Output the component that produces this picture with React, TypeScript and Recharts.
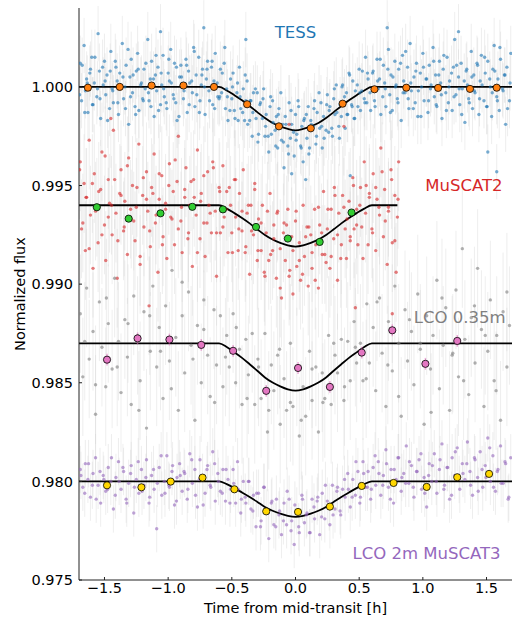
import {
  ComposedChart,
  ErrorBar,
  Line,
  ReferenceDot,
  Scatter,
  XAxis,
  YAxis,
} from "recharts";

// raw photometry [time from mid-transit (h), normalized flux]
const tessRaw: [number, number][] = [
  [-1.69,1.0012],[-1.68,0.9993],[-1.66,1.0021],[-1.65,0.9998],[-1.64,1.0004],[-1.63,0.9987],[-1.61,1.0009],[-1.60,1.0015],[-1.59,0.9991],[-1.58,1.0002],
  [-1.56,0.9995],[-1.55,1.0027],[-1.54,1.0008],[-1.53,0.9984],[-1.51,1.0001],[-1.50,1.0013],[-1.49,0.9996],[-1.48,1.0006],[-1.46,0.9989],[-1.45,1.0018],
  [-1.44,0.9999],[-1.43,0.9992],[-1.41,1.0010],[-1.40,1.0003],[-1.39,0.9986],[-1.38,1.0007],[-1.36,1.0022],[-1.35,0.9994],[-1.34,1.0000],[-1.33,1.0011],
  [-1.31,0.9981],[-1.30,1.0005],[-1.29,1.0014],[-1.28,0.9997],[-1.26,0.9990],[-1.25,1.0008],[-1.24,1.0017],[-1.23,0.9988],[-1.21,1.0002],[-1.20,0.9994],
  [-1.19,1.0009],[-1.18,0.9999],[-1.16,1.0024],[-1.15,0.9993],[-1.14,1.0004],[-1.13,1.0013],[-1.11,0.9985],[-1.10,1.0006],[-1.09,0.9998],[-1.08,1.0010],
  [-1.06,0.9991],[-1.06,1.0028],[-1.05,1.0001],[-1.04,1.0016],[-1.03,0.9995],[-1.01,0.9989],[-1.00,1.0007],[-0.99,1.0003],[-0.98,1.0019],[-0.96,0.9996],
  [-0.95,1.0012],[-0.94,0.9992],[-0.93,0.9983],[-0.91,1.0005],[-0.90,1.0011],[-0.89,1.0000],[-0.88,0.9994],[-0.86,1.0014],[-0.85,0.9987],[-0.84,1.0008],
  [-0.83,1.0002],[-0.81,0.9997],[-0.80,1.0020],[-0.79,0.9990],[-0.78,1.0006],[-0.76,1.0015],[-0.75,0.9993],[-0.74,1.0001],[-0.73,1.0009],[-0.72,1.0030],
  [-0.71,0.9986],[-0.70,1.0004],[-0.69,1.0013],[-0.68,0.9998],[-0.66,1.0010],[-0.65,0.9991],[-0.64,1.0003],[-0.63,1.0017],[-0.61,0.9995],
  [-0.60,0.9994],[-0.59,1.0009],[-0.58,0.9997],[-0.56,1.0012],[-0.55,0.9989],[-0.54,0.9999],[-0.53,0.9983],[-0.51,1.0004],[-0.50,0.9994],[-0.49,1.0007],
  [-0.48,0.9988],[-0.46,0.9997],[-0.45,0.9983],[-0.44,1.0010],[-0.43,0.9989],[-0.41,0.9999],[-0.40,0.9983],[-0.39,0.9993],[-0.39,1.0024],[-0.38,1.0003],
  [-0.36,0.9983],[-0.35,0.9993],[-0.34,0.9975],[-0.33,0.9997],[-0.31,0.9984],[-0.30,0.9997],[-0.29,0.9976],[-0.28,0.9991],[-0.26,0.9984],[-0.25,0.9999],
  [-0.24,0.9975],[-0.23,0.9986],[-0.21,0.9967],[-0.20,0.9990],[-0.19,0.9976],[-0.18,0.9993],[-0.16,0.9978],[-0.15,0.9985],[-0.14,0.9969],[-0.13,0.9989],
  [-0.11,0.9973],[-0.10,0.9981],[-0.09,0.9959],[-0.08,0.9985],[-0.06,0.9970],[-0.05,0.9992],[-0.04,0.9974],[-0.03,0.9981],[-0.03,0.9956],[-0.01,0.9965],
  [0.00,0.9986],[0.01,0.9976],[0.02,0.9993],[0.04,0.9970],[0.05,0.9980],[0.06,0.9962],[0.07,0.9984],[0.08,0.9953],[0.09,0.9974],[0.10,0.9990],
  [0.11,0.9969],[0.12,0.9983],[0.14,0.9980],[0.15,0.9993],[0.16,0.9971],[0.17,0.9987],[0.19,0.9979],[0.20,0.9992],[0.21,0.9969],[0.22,0.9985],
  [0.24,0.9978],[0.25,0.9996],[0.26,0.9977],[0.27,0.9990],[0.29,0.9975],[0.30,0.9994],[0.31,0.9986],[0.32,1.0001],[0.34,0.9980],[0.35,0.9991],
  [0.36,0.9985],[0.37,1.0001],[0.39,0.9979],[0.40,0.9997],[0.41,0.9986],[0.42,1.0007],[0.43,0.9955],[0.44,0.9991],[0.45,1.0003],[0.46,0.9984],
  [0.47,0.9998],[0.49,0.9990],[0.50,1.0009],[0.51,0.9988],[0.52,0.9998],[0.54,0.9994],[0.55,1.0015],[0.56,0.9992],[0.57,1.0004],[0.59,0.9988],
  [0.61,1.0008],[0.62,0.9993],[0.64,1.0014],[0.65,0.9999],[0.66,1.0004],[0.67,0.9986],[0.69,1.0011],[0.70,1.0002],[0.71,0.9990],[0.72,1.0030],
  [0.73,1.0019],[0.74,0.9996],[0.75,1.0006],[0.76,0.9988],[0.78,1.0013],[0.79,1.0001],[0.80,0.9994],[0.81,1.0009],[0.83,0.9983],[0.84,1.0016],
  [0.85,1.0003],[0.86,0.9997],[0.88,1.0010],[0.89,0.9989],[0.90,1.0022],[0.91,0.9998],[0.93,1.0005],[0.94,0.9992],[0.95,1.0012],[0.96,0.9985],
  [0.98,1.0007],[0.99,1.0000],[1.00,1.0017],[1.01,0.9993],[1.03,1.0004],[1.04,0.9987],[1.05,1.0011],[1.06,0.9999],[1.08,1.0020],[1.09,0.9995],
  [1.10,1.0006],[1.11,0.9990],[1.13,1.0013],[1.14,1.0002],[1.15,0.9984],[1.16,1.0009],[1.18,0.9997],[1.19,1.0015],[1.20,0.9992],[1.21,1.0003],
  [1.23,0.9988],[1.24,1.0010],[1.25,1.0024],[1.26,0.9996],[1.28,1.0005],[1.28,1.0028],[1.29,0.9991],[1.30,1.0012],[1.31,0.9999],[1.33,0.9982],
  [1.34,1.0008],[1.35,1.0001],[1.36,0.9994],[1.38,1.0018],[1.39,0.9989],[1.40,1.0006],[1.41,0.9997],[1.43,1.0011],[1.44,0.9986],[1.45,1.0003],
  [1.46,1.0016],[1.48,0.9993],[1.49,1.0007],[1.50,0.9990],[1.51,1.0013],[1.51,0.9967],[1.53,1.0000],[1.54,0.9985],[1.55,1.0009],[1.56,1.0021],
  [1.58,0.9995],[1.58,0.9957],[1.59,1.0004],[1.60,0.9988],[1.61,1.0014],[1.63,0.9998],[1.64,1.0006],[1.65,0.9981],[1.66,1.0010],[1.68,0.9993],[1.69,1.0017],
  // second camera cadence
  [-1.695,0.9996],[-1.675,1.0011],[-1.655,0.9987],[-1.635,1.0002],[-1.615,1.0007],[-1.595,0.9991],[-1.575,1.0015],[-1.555,0.9999],[-1.535,0.9994],[-1.515,1.0010],
  [-1.495,1.0003],[-1.475,0.9983],[-1.455,1.0008],[-1.435,0.9998],[-1.415,1.0013],[-1.395,0.9992],[-1.375,1.0000],[-1.355,1.0005],[-1.335,0.9989],[-1.315,1.0019],
  [-1.295,0.9995],[-1.275,1.0006],[-1.255,0.9986],[-1.235,1.0009],[-1.215,1.0001],[-1.195,0.9993],[-1.175,1.0012],[-1.155,0.9997],[-1.135,0.9990],[-1.115,1.0004],
  [-1.095,1.0016],[-1.075,0.9988],[-1.055,1.0007],[-1.035,0.9999],[-1.015,0.9992],[-0.995,1.0014],[-0.975,1.0002],[-0.955,0.9994],[-0.935,1.0010],[-0.915,0.9985],
  [-0.895,1.0005],[-0.875,0.9998],[-0.855,1.0011],[-0.835,0.9991],[-0.815,1.0003],[-0.795,1.0018],[-0.775,0.9996],[-0.755,0.9987],[-0.735,1.0006],[-0.715,1.0000],
  [-0.695,1.0009],[-0.675,0.9993],[-0.655,1.0013],[-0.635,0.9989],[-0.615,1.0002],
  [-0.595,0.9995],[-0.575,1.0007],[-0.555,1.0020],[-0.535,0.9995],[-0.515,0.9988],[-0.495,1.0000],[-0.475,0.9984],[-0.455,1.0002],[-0.435,0.9995],[-0.415,0.9987],
  [-0.395,1.0006],[-0.375,0.9981],[-0.355,0.9993],[-0.335,0.9987],[-0.315,0.9999],[-0.295,0.9972],[-0.275,0.9992],[-0.255,0.9994],[-0.235,0.9980],[-0.215,0.9975],
  [-0.195,0.9995],[-0.175,0.9982],[-0.155,0.9970],[-0.135,0.9986],[-0.115,0.9997],[-0.095,0.9972],[-0.075,0.9981],[-0.055,0.9966],[-0.035,0.9988],[-0.015,0.9977],
  [0.005,0.9973],[0.025,0.9990],[0.045,0.9969],[0.065,0.9983],[0.085,0.9986],[0.105,0.9966],[0.125,0.9981],[0.145,0.9989],[0.165,0.9975],[0.185,0.9997],
  [0.205,0.9980],[0.225,0.9974],[0.245,0.9991],[0.265,0.9988],[0.285,0.9979],[0.305,0.9999],[0.325,0.9987],[0.345,0.9974],[0.365,1.0000],[0.385,0.9995],
  [0.405,0.9986],[0.425,1.0006],[0.445,0.9990],[0.465,0.9984],[0.485,1.0001],[0.505,0.9997],[0.525,1.0008],[0.545,0.9992],[0.565,1.0007],[0.585,0.9997],
  [0.605,1.0007],[0.625,0.9990],[0.645,1.0003],[0.665,1.0014],[0.685,0.9995],[0.705,0.9999],[0.725,1.0009],[0.745,0.9987],[0.765,1.0005],[0.785,1.0000],
  [0.805,0.9992],[0.825,1.0012],[0.845,0.9997],[0.865,1.0018],[0.885,0.9994],[0.905,1.0002],[0.925,0.9989],[0.945,1.0008],[0.965,0.9998],[0.985,0.9985],
  [1.005,1.0010],[1.025,1.0004],[1.045,0.9993],[1.065,1.0001],[1.085,1.0013],[1.105,0.9991],[1.125,1.0006],[1.145,0.9996],[1.165,1.0016],[1.185,0.9988],
  [1.205,1.0000],[1.225,1.0007],[1.245,0.9995],[1.265,1.0011],[1.285,0.9999],[1.305,0.9986],[1.325,1.0003],[1.345,1.0009],[1.365,0.9992],[1.385,1.0005],
  [1.405,0.9998],[1.425,1.0012],[1.445,0.9994],[1.465,1.0001],[1.485,1.0015],[1.505,0.9990],[1.525,1.0004],[1.545,0.9997],[1.565,1.0008],[1.585,0.9993],
  [1.605,1.0020],[1.625,0.9999],[1.645,1.0006],[1.665,0.9989],[1.685,1.0002],
];

const muscat2Raw: [number, number][] = [
  [-1.69,0.9962],[-1.68,0.9928],[-1.66,0.9951],[-1.65,0.9917],[-1.64,0.9944],[-1.62,0.9973],[-1.61,0.9935],[-1.59,0.9908],[-1.58,0.9956],[-1.56,0.9939],
  [-1.55,0.9921],[-1.53,0.9948],[-1.52,0.9967],[-1.50,0.9930],[-1.49,0.9912],[-1.47,0.9953],[-1.46,0.9941],[-1.45,0.9984],[-1.44,0.9925],[-1.43,0.9978],
  [-1.41,0.9936],[-1.40,0.9903],[-1.38,0.9946],[-1.37,0.9958],[-1.35,0.9927],[-1.34,0.9942],[-1.32,0.9915],[-1.31,0.9964],[-1.29,0.9933],[-1.28,0.9950],
  [-1.26,0.9922],[-1.25,0.9939],[-1.23,0.9971],[-1.22,0.9910],[-1.20,0.9945],[-1.19,0.9929],[-1.17,0.9957],[-1.16,0.9937],[-1.15,0.9889],[-1.14,0.9919],
  [-1.13,0.9949],[-1.11,0.9966],[-1.10,0.9931],[-1.08,0.9906],[-1.07,0.9943],[-1.05,0.9955],[-1.04,0.9924],[-1.02,0.9938],[-1.01,0.9913],[-0.99,0.9961],
  [-0.98,0.9934],[-0.96,0.9947],[-0.95,0.9920],[-0.93,0.9952],[-0.92,0.9975],[-0.90,0.9932],[-0.89,0.9916],[-0.87,0.9944],[-0.86,0.9959],[-0.84,0.9926],
  [-0.83,0.9940],[-0.81,0.9909],[-0.80,0.9953],[-0.78,0.9935],[-0.77,0.9968],[-0.75,0.9923],[-0.74,0.9946],[-0.72,0.9931],[-0.71,0.9914],[-0.69,0.9957],
  [-0.68,0.9940],[-0.66,0.9926],[-0.65,0.9962],[-0.63,0.9937],[-0.62,0.9904],[-0.60,0.9949],
  [-0.59,0.9926],[-0.57,0.9960],[-0.56,0.9934],[-0.54,0.9947],[-0.53,0.9916],[-0.51,0.9940],[-0.50,0.9926],[-0.48,0.9953],[-0.47,0.9934],[-0.45,0.9917],
  [-0.44,0.9946],[-0.42,0.9927],[-0.41,0.9958],[-0.39,0.9919],[-0.38,0.9936],[-0.36,0.9905],[-0.35,0.9940],[-0.33,0.9925],[-0.32,0.9948],[-0.30,0.9912],
  [-0.29,0.9933],[-0.27,0.9917],[-0.26,0.9940],[-0.24,0.9904],[-0.23,0.9926],[-0.21,0.9912],[-0.20,0.9946],[-0.18,0.9917],[-0.17,0.9930],[-0.15,0.9903],
  [-0.14,0.9937],[-0.12,0.9918],[-0.11,0.9893],[-0.09,0.9931],[-0.08,0.9912],[-0.06,0.9938],[-0.05,0.9904],[-0.05,0.9981],[-0.03,0.9924],[-0.02,0.9895],
  [0.00,0.9932],[0.01,0.9909],[0.03,0.9921],[0.04,0.9902],[0.06,0.9940],[0.07,0.9914],[0.09,0.9929],[0.10,0.9899],[0.12,0.9925],[0.13,0.9908],
  [0.15,0.9938],[0.16,0.9920],[0.18,0.9898],[0.19,0.9930],[0.21,0.9915],[0.22,0.9947],[0.24,0.9911],[0.25,0.9928],[0.27,0.9908],[0.28,0.9938],
  [0.30,0.9923],[0.31,0.9945],[0.33,0.9902],[0.34,0.9936],[0.36,0.9920],[0.37,0.9945],[0.38,0.9980],[0.39,0.9928],[0.40,0.9913],[0.42,0.9942],
  [0.43,0.9922],[0.45,0.9954],[0.46,0.9928],[0.47,0.9888],[0.48,0.9938],[0.49,0.9920],[0.51,0.9949],[0.52,0.9929],[0.54,0.9962],[0.55,0.9936],
  [0.57,0.9920],[0.58,0.9946],[0.60,0.9928],[0.61,0.9956],[0.63,0.9917],[0.64,0.9943],[0.66,0.9935],[0.67,0.9969],[0.69,0.9924],[0.70,0.9948],
  [0.72,0.9910],[0.73,0.9939],[0.75,0.9958],[0.76,0.9921],[0.76,0.9885],[0.78,0.9945],[0.79,0.9906],[0.80,0.9934],[0.81,0.9962],
  [-1.695,0.9958],[-1.670,0.9931],[-1.645,0.9944],[-1.620,0.9918],[-1.595,0.9951],[-1.570,0.9937],[-1.545,0.9947],[-1.520,0.9925],[-1.495,0.9965],[-1.470,0.9934],
  [-1.445,0.9940],[-1.420,0.9953],[-1.395,0.9922],[-1.370,0.9945],[-1.345,0.9929],[-1.320,0.9960],[-1.295,0.9938],[-1.270,0.9932],[-1.245,0.9949],[-1.220,0.9914],
  [-1.195,0.9954],[-1.170,0.9943],[-1.145,0.9927],[-1.120,0.9946],[-1.095,0.9935],[-1.070,0.9956],[-1.045,0.9920],[-1.020,0.9941],[-0.995,0.9950],[-0.970,0.9933],
  [-0.945,0.9963],[-0.920,0.9928],[-0.895,0.9939],[-0.870,0.9948],[-0.845,0.9923],[-0.820,0.9952],[-0.795,0.9944],[-0.770,0.9916],[-0.745,0.9942],[-0.720,0.9955],
  [-0.695,0.9931],[-0.670,0.9936],[-0.645,0.9959],[-0.620,0.9926],
  [-0.595,0.9947],[-0.570,0.9929],[-0.545,0.9938],[-0.520,0.9949],[-0.495,0.9916],[-0.470,0.9953],[-0.445,0.9928],[-0.420,0.9937],[-0.395,0.9916],[-0.370,0.9940],
  [-0.345,0.9927],[-0.320,0.9951],[-0.295,0.9917],[-0.270,0.9931],[-0.245,0.9906],[-0.220,0.9937],[-0.195,0.9915],[-0.170,0.9923],[-0.145,0.9936],[-0.120,0.9898],
  [-0.095,0.9926],[-0.070,0.9930],[-0.045,0.9907],[-0.020,0.9917],[0.005,0.9937],[0.030,0.9912],[0.055,0.9905],[0.080,0.9924],[0.105,0.9929],[0.130,0.9916],
  [0.155,0.9902],[0.180,0.9939],[0.205,0.9926],[0.230,0.9915],[0.255,0.9938],[0.280,0.9914],[0.305,0.9949],[0.330,0.9925],[0.355,0.9913],[0.380,0.9939],
  [0.405,0.9933],[0.430,0.9924],[0.455,0.9950],[0.480,0.9930],[0.505,0.9940],[0.530,0.9913],[0.555,0.9950],[0.580,0.9944],
  [0.605,0.9926],[0.630,0.9949],[0.655,0.9939],[0.680,0.9957],[0.705,0.9932],[0.730,0.9937],[0.755,0.9953],[0.780,0.9922],[0.805,0.9943],
];

const lco035Raw: [number, number][] = [
  [-1.69,0.9885],[-1.67,0.9853],[-1.64,0.9898],[-1.62,0.9862],[-1.59,0.9876],[-1.57,0.9834],[-1.54,0.9891],[-1.52,0.9868],[-1.49,0.9848],[-1.47,0.9880],
  [-1.44,0.9857],[-1.42,0.9903],[-1.39,0.9871],[-1.37,0.9845],[-1.34,0.9882],[-1.32,0.9863],[-1.29,0.9839],[-1.27,0.9894],[-1.24,0.9874],[-1.22,0.9851],
  [-1.19,0.9886],[-1.17,0.9827],[-1.14,0.9866],[-1.12,0.9899],[-1.09,0.9858],[-1.07,0.9878],[-1.04,0.9842],[-1.02,0.9889],[-0.99,0.9861],[-0.97,0.9907],
  [-0.94,0.9873],[-0.92,0.9836],[-0.89,0.9884],[-0.87,0.9855],[-0.84,0.9896],[-0.82,0.9869],[-0.79,0.9831],[-0.77,0.9879],[-0.74,0.9850],[-0.72,0.9892],
  [-0.69,0.9864],[-0.67,0.9843],[-0.64,0.9887],[-0.62,0.9859],
  [-0.59,0.9884],[-0.57,0.9848],[-0.54,0.9874],[-0.52,0.9858],[-0.49,0.9885],[-0.47,0.9850],[-0.44,0.9867],[-0.42,0.9839],[-0.39,0.9872],[-0.37,0.9854],
  [-0.34,0.9875],[-0.32,0.9839],[-0.29,0.9858],[-0.27,0.9842],[-0.24,0.9875],[-0.22,0.9825],[-0.19,0.9859],[-0.17,0.9846],[-0.14,0.9864],[-0.12,0.9829],
  [-0.09,0.9852],[-0.07,0.9836],[-0.04,0.9870],[-0.02,0.9838],[0.01,0.9858],[0.03,0.9823],[0.06,0.9848],[0.08,0.9833],[0.11,0.9866],[0.13,0.9841],
  [0.16,0.9858],[0.18,0.9825],[0.21,0.9855],[0.23,0.9842],[0.26,0.9874],[0.28,0.9839],[0.31,0.9864],[0.33,0.9855],[0.36,0.9872],[0.38,0.9841],
  [0.41,0.9871],[0.43,0.9851],[0.46,0.9881],[0.48,0.9860],[0.51,0.9870],[0.53,0.9851],[0.56,0.9890],[0.58,0.9860],
  [0.61,0.9878],[0.63,0.9846],[0.66,0.9893],[0.68,0.9865],[0.71,0.9838],[0.73,0.9881],[0.76,0.9856],[0.78,0.9899],[0.81,0.9870],[0.83,0.9833],
  [0.86,0.9887],[0.88,0.9861],[0.91,0.9876],[0.93,0.9849],[0.96,0.9895],[0.98,0.9867],[1.01,0.9829],[1.03,0.9884],[1.06,0.9857],[1.08,0.9874],
  [1.11,0.9902],[1.13,0.9847],[1.16,0.9869],[1.18,0.9888],[1.21,0.9836],[1.23,0.9864],[1.26,0.9897],[1.28,0.9853],[1.31,0.9918],[1.33,0.9872],
  [1.36,0.9844],[1.38,0.9883],[1.41,0.9860],[1.43,0.9908],[1.46,0.9877],[1.48,0.9838],[1.51,0.9866],[1.53,0.9892],[1.56,0.9851],[1.58,0.9874],
  [1.61,0.9831],[1.63,0.9886],[1.66,0.9858],[1.68,0.9879],
  [-1.655,0.9871],[-1.57,0.9849],[-1.485,0.9893],[-1.40,0.9858],[-1.315,0.9880],[-1.23,0.9836],[-1.145,0.9884],[-1.06,0.9866],[-0.975,0.9847],[-0.89,0.9901],
  [-0.805,0.9862],[-0.72,0.9877],[-0.635,0.9840],[-0.55,0.9863],[-0.465,0.9878],[-0.38,0.9842],[-0.295,0.9862],[-0.21,0.9836],[-0.125,0.9867],[-0.04,0.9840],
  [0.045,0.9831],[0.13,0.9857],[0.215,0.9840],[0.30,0.9870],[0.385,0.9848],[0.47,0.9868],[0.555,0.9852],[0.64,0.9891],[0.725,0.9859],[0.81,0.9843],
  [0.895,0.9882],[0.98,0.9870],[1.065,0.9835],[1.15,0.9893],[1.235,0.9865],[1.32,0.9851],[1.405,0.9889],[1.49,0.9874],[1.575,0.9846],[1.66,0.9896],
];

const muscat3Raw: [number, number][] = [
  [-1.69,0.9806],[-1.67,0.9797],[-1.65,0.9809],[-1.63,0.9801],[-1.61,0.9792],[-1.59,0.9804],[-1.57,0.9812],[-1.55,0.9798],[-1.53,0.9789],[-1.51,0.9803],
  [-1.49,0.9795],[-1.47,0.9807],[-1.45,0.9800],[-1.43,0.9786],[-1.41,0.9802],[-1.39,0.9810],[-1.37,0.9796],[-1.35,0.9805],[-1.33,0.9791],[-1.31,0.9799],
  [-1.29,0.9808],[-1.27,0.9784],[-1.25,0.9801],[-1.23,0.9794],[-1.21,0.9806],[-1.19,0.9798],[-1.17,0.9811],[-1.15,0.9789],[-1.13,0.9803],[-1.11,0.9796],
  [-1.09,0.9776],[-1.07,0.9807],[-1.05,0.9793],[-1.03,0.9800],[-1.01,0.9813],[-0.99,0.9797],[-0.97,0.9805],[-0.95,0.9788],[-0.93,0.9802],[-0.91,0.9809],
  [-0.89,0.9795],[-0.87,0.9804],[-0.85,0.9791],[-0.83,0.9814],[-0.81,0.9799],[-0.79,0.9806],[-0.77,0.9787],[-0.75,0.9811],[-0.73,0.9802],[-0.71,0.9794],
  [-0.69,0.9808],[-0.67,0.9798],[-0.65,0.9815],[-0.63,0.9790],[-0.61,0.9804],
  [-0.59,0.9795],[-0.57,0.9806],[-0.55,0.9790],[-0.53,0.9801],[-0.51,0.9796],[-0.49,0.9806],[-0.47,0.9789],[-0.45,0.9796],[-0.43,0.9784],[-0.41,0.9800],
  [-0.39,0.9789],[-0.37,0.9800],[-0.35,0.9786],[-0.33,0.9793],[-0.31,0.9777],[-0.29,0.9794],[-0.27,0.9780],[-0.25,0.9797],[-0.23,0.9784],[-0.21,0.9771],
  [-0.19,0.9789],[-0.17,0.9778],[-0.15,0.9791],[-0.13,0.9783],[-0.11,0.9773],[-0.09,0.9789],[-0.07,0.9778],[-0.05,0.9791],[-0.03,0.9780],[-0.01,0.9768],
  [0.01,0.9785],[0.03,0.9774],[0.05,0.9793],[0.07,0.9779],[0.09,0.9784],[0.11,0.9774],[0.13,0.9791],[0.15,0.9781],[0.17,0.9790],[0.19,0.9773],
  [0.21,0.9794],[0.23,0.9781],[0.25,0.9790],[0.27,0.9778],[0.29,0.9798],[0.31,0.9786],[0.33,0.9797],[0.35,0.9785],[0.37,0.9796],[0.39,0.9792],
  [0.41,0.9804],[0.43,0.9787],[0.45,0.9801],[0.47,0.9793],[0.49,0.9805],[0.51,0.9792],[0.53,0.9810],[0.55,0.9797],[0.57,0.9805],[0.59,0.9791],
  [0.61,0.9807],[0.63,0.9798],[0.65,0.9810],[0.67,0.9793],[0.69,0.9803],[0.71,0.9816],[0.73,0.9797],[0.75,0.9806],[0.77,0.9789],[0.79,0.9801],
  [0.81,0.9812],[0.83,0.9795],[0.85,0.9804],[0.87,0.9818],[0.89,0.9799],[0.91,0.9808],[0.93,0.9792],[0.95,0.9805],[0.97,0.9811],[0.99,0.9796],
  [1.01,0.9802],[1.03,0.9787],[1.05,0.9809],[1.07,0.9800],[1.09,0.9814],[1.11,0.9794],[1.13,0.9806],[1.15,0.9819],[1.17,0.9798],[1.19,0.9807],
  [1.21,0.9791],[1.23,0.9812],[1.25,0.9803],[1.27,0.9817],[1.29,0.9796],[1.31,0.9809],[1.33,0.9801],[1.35,0.9820],[1.37,0.9805],[1.39,0.9793],
  [1.41,0.9811],[1.43,0.9802],[1.45,0.9815],[1.47,0.9797],[1.49,0.9808],[1.51,0.9822],[1.53,0.9800],[1.55,0.9813],[1.57,0.9795],[1.59,0.9806],
  [1.61,0.9818],[1.63,0.9799],[1.65,0.9809],[1.67,0.9791],[1.69,0.9812],
  [-1.685,0.9803],[-1.655,0.9794],[-1.625,0.9809],[-1.595,0.9798],[-1.565,0.9791],[-1.535,0.9805],[-1.505,0.9801],[-1.475,0.9796],[-1.445,0.9812],[-1.415,0.9793],
  [-1.385,0.9800],[-1.355,0.9807],[-1.325,0.9789],[-1.295,0.9804],[-1.265,0.9797],[-1.235,0.9810],[-1.205,0.9795],[-1.175,0.9802],[-1.145,0.9792],[-1.115,0.9806],
  [-1.085,0.9799],[-1.055,0.9813],[-1.025,0.9794],[-0.995,0.9798],[-0.965,0.9808],[-0.935,0.9790],[-0.905,0.9803],[-0.875,0.9805],[-0.845,0.9796],[-0.815,0.9811],
  [-0.785,0.9793],[-0.755,0.9801],[-0.725,0.9788],[-0.695,0.9806],[-0.665,0.9797],[-0.635,0.9809],[-0.605,0.9800],
  [-0.575,0.9794],[-0.545,0.9806],[-0.515,0.9789],[-0.485,0.9799],[-0.455,0.9810],[-0.425,0.9791],[-0.395,0.9792],[-0.365,0.9800],[-0.335,0.9785],[-0.305,0.9794],
  [-0.275,0.9777],[-0.245,0.9797],[-0.215,0.9784],[-0.185,0.9790],[-0.155,0.9777],[-0.125,0.9785],[-0.095,0.9780],[-0.065,0.9795],[-0.035,0.9775],[-0.005,0.9788],
  [0.025,0.9777],[0.055,0.9791],[0.085,0.9783],[0.115,0.9774],[0.145,0.9787],[0.175,0.9792],[0.205,0.9782],[0.235,0.9798],[0.265,0.9787],[0.295,0.9783],
  [0.325,0.9795],[0.355,0.9783],[0.385,0.9801],[0.415,0.9796],[0.445,0.9792],[0.475,0.9810],[0.505,0.9789],[0.535,0.9804],[0.565,0.9797],
  [0.595,0.9796],[0.625,0.9813],[0.655,0.9804],[0.685,0.9798],[0.715,0.9809],[0.745,0.9791],[0.775,0.9806],[0.805,0.9812],[0.835,0.9802],[0.865,0.9799],
  [0.895,0.9810],[0.925,0.9797],[0.955,0.9805],[0.985,0.9814],[1.015,0.9794],[1.045,0.9803],[1.075,0.9808],[1.105,0.9800],[1.135,0.9811],[1.165,0.9796],
  [1.195,0.9807],[1.225,0.9793],[1.255,0.9815],[1.285,0.9801],[1.315,0.9804],[1.345,0.9809],[1.375,0.9798],[1.405,0.9812],[1.435,0.9795],[1.465,0.9806],
  [1.495,0.9802],[1.525,0.9817],[1.555,0.9797],[1.585,0.9805],[1.615,0.9799],[1.645,0.9810],[1.675,0.9792],
];

// typical per-point uncertainties
const tessErr = 0.0014;
const muscat2Err = 0.0025;
const lco035Err = 0.003;
const muscat3Err = 0.0012;

// binned points
const tessBinTime = [-1.63, -1.38, -1.13, -0.88, -0.64, -0.38, -0.13, 0.12, 0.37, 0.62, 0.87, 1.12, 1.37, 1.58];
const tessBinFlux = [0.99996, 1.0, 1.00007, 1.00007, 1.0, 0.99912, 0.998, 0.9979, 0.99915, 0.99988, 0.99996, 0.99995, 0.9999, 0.99996];

const muscat2BinTime = [-1.56, -1.31, -1.06, -0.81, -0.57, -0.31, -0.06, 0.19, 0.44];
const muscat2BinFlux = [0.9939, 0.99332, 0.99359, 0.99392, 0.99379, 0.9929, 0.99231, 0.99214, 0.99363];

const lco035BinTime = [-1.48, -1.24, -0.99, -0.74, -0.49, -0.23, 0.02, 0.27, 0.52, 0.76, 1.02, 1.27];
const lco035BinFlux = [0.98617, 0.98725, 0.98719, 0.98692, 0.98662, 0.98459, 0.98575, 0.98479, 0.98653, 0.98766, 0.98596, 0.98712];

const muscat3BinTime = [-1.48, -1.21, -0.98, -0.73, -0.48, -0.23, 0.02, 0.27, 0.52, 0.77, 1.03, 1.27, 1.52];
const muscat3BinFlux = [0.9798, 0.9797, 0.97999, 0.98019, 0.9796, 0.97848, 0.97845, 0.97872, 0.97977, 0.97992, 0.97972, 0.98021, 0.98038];

// transit models
const modelTime = [-1.7, -0.6, -0.54, -0.48, -0.42, -0.36, -0.3, -0.24, -0.18, -0.12, -0.06, 0, 0.06, 0.12, 0.18, 0.24, 0.3, 0.36, 0.42, 0.48, 0.54, 0.6, 1.7];
const muscat2ModelTime = [-1.7, -0.6, -0.54, -0.48, -0.42, -0.36, -0.3, -0.24, -0.18, -0.12, -0.06, 0, 0.06, 0.12, 0.18, 0.24, 0.3, 0.36, 0.42, 0.48, 0.54, 0.6, 0.8];
const tessModel = [1.0, 1.0, 0.99982, 0.99958, 0.99932, 0.99903, 0.99872, 0.99842, 0.99817, 0.998, 0.99787, 0.9978, 0.99787, 0.998, 0.99817, 0.99842, 0.99872, 0.99903, 0.99932, 0.99958, 0.99982, 1.0, 1.0];
const muscat2Model = [0.994, 0.994, 0.99383, 0.9936, 0.99335, 0.99308, 0.99278, 0.99249, 0.99226, 0.99209, 0.99196, 0.9919, 0.99196, 0.99209, 0.99226, 0.99249, 0.99278, 0.99308, 0.99335, 0.9936, 0.99383, 0.994, 0.994];
const lco035Model = [0.987, 0.987, 0.98681, 0.98654, 0.98626, 0.98594, 0.98561, 0.98527, 0.98501, 0.98482, 0.98467, 0.9846, 0.98467, 0.98482, 0.98501, 0.98527, 0.98561, 0.98594, 0.98626, 0.98654, 0.98681, 0.987, 0.987];
const muscat3Model = [0.98, 0.98, 0.97986, 0.97966, 0.97944, 0.97921, 0.97896, 0.9787, 0.97851, 0.97836, 0.97825, 0.9782, 0.97825, 0.97836, 0.97851, 0.9787, 0.97896, 0.97921, 0.97944, 0.97966, 0.97986, 0.98, 0.98];

const xTicks = [-1.5, -1.0, -0.5, 0.0, 0.5, 1.0, 1.5];
const yTicks = [0.975, 0.98, 0.985, 0.99, 0.995, 1.0];

const FONT = "DejaVu Sans, sans-serif";

const toRows = (pts: [number, number][], err: number) =>
  pts.map(([t, flux]) => ({ t, flux, err }));
const zipRows = (time: number[], flux: number[], err = 0) =>
  time.map((t, i) => ({ t, flux: flux[i], err }));

const dot = (color: string, r: number, opacity: number) => (p: any) =>
  <circle cx={p.cx} cy={p.cy} r={r} fill={color} fillOpacity={opacity} />;

const binDot = (color: string) => (p: any) =>
  <circle cx={p.cx} cy={p.cy} r={3.6} fill={color} stroke="#000" strokeWidth={0.8} />;

const nothing = () => <g />;

const rightLabel = (text: string, color: string) => (props: any) => {
  const { viewBox } = props;
  return (
    <text x={viewBox.x} y={viewBox.y} textAnchor="end" dominantBaseline="central"
      fill={color} fontSize={16.5} fontFamily={FONT}>
      {text}
    </text>
  );
};

export default function App() {
  const rawSets = [
    { data: toRows(tessRaw, tessErr), color: "#1f77b4" },
    { data: toRows(muscat2Raw, muscat2Err), color: "#d62728" },
    { data: toRows(lco035Raw, lco035Err), color: "#7f7f7f" },
    { data: toRows(muscat3Raw, muscat3Err), color: "#9467bd" },
  ];

  return (
    <div style={{ position: "absolute", left: 0, top: 0, background: "#fff" }}>
      <ComposedChart width={516} height={619} margin={{ top: 8, right: 4, left: 0, bottom: 0 }}>
        <XAxis
          type="number"
          dataKey="t"
          domain={[-1.7, 1.7]}
          ticks={xTicks}
          allowDataOverflow
          height={39}
          tickSize={-3}
          tickMargin={6}
          stroke="#222"
          tick={{ fill: "#000", fontSize: 14.5, fontFamily: FONT }}
          tickFormatter={(v: number) => v.toFixed(1).replace("-", "\u2212")}
          label={{
            content: (p: any) => (
              <text x={p.viewBox.x + p.viewBox.width / 2} y={p.viewBox.y + 28}
                textAnchor="middle" dominantBaseline="central" fontSize={14.5} fontFamily={FONT} fill="#000">
                Time from mid-transit [h]
              </text>
            ),
          }}
        />
        <YAxis
          type="number"
          dataKey="flux"
          domain={[0.975, 1.004]}
          ticks={yTicks}
          allowDataOverflow
          width={79}
          tickSize={-3}
          tickMargin={9}
          stroke="#222"
          tick={{ fill: "#000", fontSize: 14.5, fontFamily: FONT }}
          tickFormatter={(v: number) => v.toFixed(3)}
          label={{
            content: (p: any) => {
              const cx = p.viewBox.x + 20;
              const cy = p.viewBox.y + p.viewBox.height / 2;
              return (
                <text x={cx} y={cy} transform={`rotate(-90, ${cx}, ${cy})`}
                  textAnchor="middle" dominantBaseline="central" fontSize={14.5} fontFamily={FONT} fill="#000">
                  Normalized flux
                </text>
              );
            },
          }}
        />

        {/* error bars of raw points, drawn first so they sit behind */}
        {rawSets.map((s, i) => (
          <Scatter key={`err-${i}`} data={s.data} dataKey="flux" shape={nothing} isAnimationActive={false}>
            <ErrorBar dataKey="err" direction="y" width={0} stroke="#d4d4d4" strokeOpacity={0.4} strokeWidth={1} />
          </Scatter>
        ))}

        {rawSets.map((s, i) => (
          <Scatter key={`raw-${i}`} data={s.data} dataKey="flux" shape={dot(s.color, 1.7, 0.6)} isAnimationActive={false} />
        ))}

        <Line data={zipRows(modelTime, tessModel)} dataKey="flux" type="monotone" stroke="#000" strokeWidth={1.8} dot={false} isAnimationActive={false} />
        <Line data={zipRows(muscat2ModelTime, muscat2Model)} dataKey="flux" type="monotone" stroke="#000" strokeWidth={1.8} dot={false} isAnimationActive={false} />
        <Line data={zipRows(modelTime, lco035Model)} dataKey="flux" type="monotone" stroke="#000" strokeWidth={1.8} dot={false} isAnimationActive={false} />
        <Line data={zipRows(modelTime, muscat3Model)} dataKey="flux" type="monotone" stroke="#000" strokeWidth={1.8} dot={false} isAnimationActive={false} />

        <Scatter data={zipRows(tessBinTime, tessBinFlux)} dataKey="flux" shape={binDot("#ff7f0e")} isAnimationActive={false} />
        <Scatter data={zipRows(muscat2BinTime, muscat2BinFlux, 0.00012)} dataKey="flux" shape={binDot("#32cd32")} isAnimationActive={false}>
          <ErrorBar dataKey="err" direction="y" width={0} stroke="#32cd32" strokeOpacity={0.6} />
        </Scatter>
        <Scatter data={zipRows(lco035BinTime, lco035BinFlux, 0.0003)} dataKey="flux" shape={binDot("#e377c2")} isAnimationActive={false}>
          <ErrorBar dataKey="err" direction="y" width={0} stroke="#e377c2" strokeOpacity={0.6} />
        </Scatter>
        <Scatter data={zipRows(muscat3BinTime, muscat3BinFlux)} dataKey="flux" shape={binDot("#ffd700")} isAnimationActive={false} />

        <ReferenceDot x={0} y={1.0028} r={0} fill="none" stroke="none"
          label={{ value: "TESS", position: "center", fill: "#1f77b4", fontSize: 16.5, fontFamily: FONT }} />
        <ReferenceDot x={1.626} y={0.995} r={0} fill="none" stroke="none"
          label={{ content: rightLabel("MuSCAT2", "#d62728") }} />
        <ReferenceDot x={1.65} y={0.9883} r={0} fill="none" stroke="none"
          label={{ content: rightLabel("LCO 0.35m", "#7f7f7f") }} />
        <ReferenceDot x={1.61} y={0.97634} r={0} fill="none" stroke="none"
          label={{ content: rightLabel("LCO 2m MuSCAT3", "#9467bd") }} />
      </ComposedChart>
    </div>
  );
}
